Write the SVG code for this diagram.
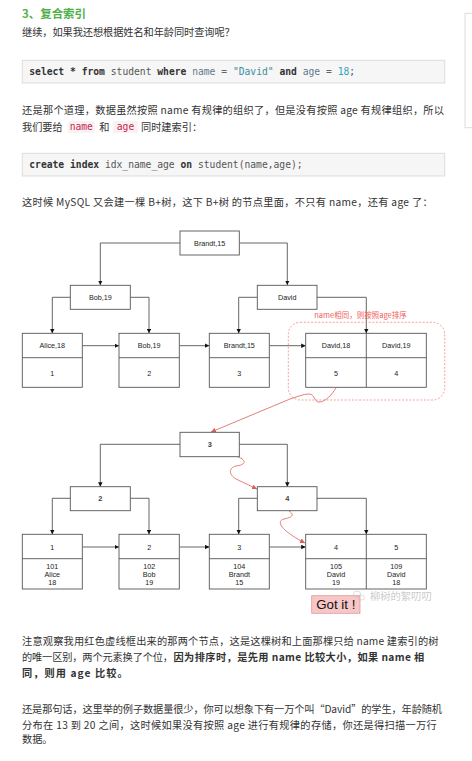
<svg xmlns="http://www.w3.org/2000/svg" width="472" height="761" viewBox="0 0 472 761">
<defs>
<style>
.p{font-family:"Noto Sans CJK SC","Noto Sans",sans-serif;font-size:10.2px;fill:#333}
.b{font-weight:bold}
.h{font-family:"Noto Sans CJK SC","Noto Sans",sans-serif;font-size:11.5px;font-weight:bold;fill:#4fb04a}
.code{font-family:"DejaVu Sans Mono","Liberation Mono",monospace;font-size:9.67px;fill:#555}
.kw{font-weight:bold;fill:#333}
.id{fill:#5f7a8c}
.str{fill:#3b8ea0}
.num{fill:#2aa8c0}
.op{fill:#666}
.box{fill:#f6f6f6;stroke:#ddd;stroke-width:1}
.ic{fill:#f9f2f4}
.ict{font-family:"DejaVu Sans Mono","Liberation Mono",monospace;font-size:9.67px;fill:#c7254e}
.n{fill:#fff;stroke:#555;stroke-width:0.9}
.t{font-family:"Liberation Sans",Arial,sans-serif;font-size:7.2px;fill:#222;text-anchor:middle}
.tb{font-family:"Liberation Sans",Arial,sans-serif;font-size:7.4px;font-weight:bold;fill:#444;text-anchor:middle}
.c{fill:none;stroke:#555;stroke-width:0.9}
.r{fill:none;stroke:#d9605a;stroke-width:0.8}
</style>
<marker id="a" viewBox="0 0 8 8" refX="8" refY="4" markerWidth="4.5" markerHeight="4.5" markerUnits="userSpaceOnUse" orient="auto"><path d="M0,0 L8,4 L0,8 z" fill="#111"/></marker>
<marker id="ar" viewBox="0 0 8 8" refX="8" refY="4" markerWidth="5" markerHeight="5" markerUnits="userSpaceOnUse" orient="auto"><path d="M0,0 L8,4 L0,8 z" fill="#d9605a"/></marker>
</defs>
<rect width="472" height="761" fill="#fff"/>
<rect x="465" y="13.3" width="12" height="114.4" fill="#fff" stroke="#ddd"/>

<text class="h" x="22" y="17.5" textLength="64" lengthAdjust="spacingAndGlyphs">3、复合索引</text>
<text class="p" x="22" y="36" textLength="212.7">继续，如果我还想根据姓名和年龄同时查询呢？</text>

<rect class="box" x="22.3" y="60.3" width="422.4" height="22.7"/>
<text class="code" x="29.3" y="75"><tspan class="kw">select</tspan> <tspan class="kw">*</tspan> <tspan class="kw">from</tspan> student <tspan class="kw">where</tspan> <tspan class="id">name</tspan> <tspan class="op">=</tspan> <tspan class="str">"David"</tspan> <tspan class="kw">and</tspan> <tspan class="id">age</tspan> <tspan class="op">=</tspan> <tspan class="num">18</tspan>;</text>

<text class="p" x="22" y="113.7" textLength="422">还是那个道理，数据虽然按照 name 有规律的组织了，但是没有按照 age 有规律组织，所以</text>
<text class="p" x="22" y="130.5">我们要给</text>
<rect class="ic" x="67.7" y="121" width="27.3" height="12" rx="2"/>
<text class="ict" x="81.3" y="130.3" text-anchor="middle">name</text>
<text class="p" x="99.3" y="130.5">和</text>
<rect class="ic" x="112.7" y="121" width="25.6" height="12" rx="2"/>
<text class="ict" x="125.5" y="130.3" text-anchor="middle">age</text>
<text class="p" x="141" y="130.5">同时建索引：</text>

<rect class="box" x="22.3" y="153.3" width="422.4" height="22.7"/>
<text class="code" x="29.3" y="168"><tspan class="kw">create</tspan> <tspan class="kw">index</tspan> idx_name_age <tspan class="kw">on</tspan> student(name,age);</text>

<text class="p" x="22" y="206.4" textLength="410.6">这时候 MySQL 又会建一棵 B+树，这下 B+树 的节点里面，不只有 name，还有 age 了：</text>

<g id="connectors">
<path class="c" d="M180,243 H100.3 V285" marker-end="url(#a)"/>
<path class="c" d="M239.3,243 H287.3 V285" marker-end="url(#a)"/>
<path class="c" d="M70.3,297.3 H52.3 V333.3" marker-end="url(#a)"/>
<path class="c" d="M130.3,297.3 H149 V333.3" marker-end="url(#a)"/>
<path class="c" d="M257.3,297.3 H238.7 V333.3" marker-end="url(#a)"/>
<path class="c" d="M317,297.3 H366.3 V333.3" marker-end="url(#a)"/>
<path class="c" d="M82.3,345.7 H119" marker-end="url(#a)"/>
<path class="c" d="M179.3,345.7 H209.3" marker-end="url(#a)"/>
<path class="c" d="M269.3,345.7 H305.7" marker-end="url(#a)"/>
<path class="c" d="M180,444.3 H100.3 V486.7" marker-end="url(#a)"/>
<path class="c" d="M239.3,444.3 H287.3 V486.7" marker-end="url(#a)"/>
<path class="c" d="M70.3,498.3 H52.3 V534.3" marker-end="url(#a)"/>
<path class="c" d="M130.3,498.3 H149 V534.3" marker-end="url(#a)"/>
<path class="c" d="M257.3,498.3 H238.7 V534.3" marker-end="url(#a)"/>
<path class="c" d="M317,498.3 H366.3 V534.3" marker-end="url(#a)"/>
<path class="c" d="M82.3,547 H119" marker-end="url(#a)"/>
<path class="c" d="M179.3,547 H209.3" marker-end="url(#a)"/>
<path class="c" d="M269.3,547 H305.7" marker-end="url(#a)"/>
<path class="r" d="M336,388 C332,394 326,402 319,402 C314,402 315,394 309,394 C303,394 297,397 290,399 L211,432" marker-end="url(#ar)"/>
<path class="r" d="M238,457 C247,460 246,465 236,466 C228,468 229,475 236,479 L257,489" marker-end="url(#ar)"/>
<path class="r" d="M289,511 C294,514 294,517 284,519 C276,521 280,530 305,543" marker-end="url(#ar)"/>
</g>

<g id="group-same-name">
<rect x="288.3" y="322.3" width="156.4" height="77.7" rx="12" fill="none" stroke="#f28a8a" stroke-width="0.8" stroke-dasharray="2,1.6"/>
<text x="360.5" y="317.5" font-family="Noto Sans CJK SC,Noto Sans,sans-serif" font-size="7.5" fill="#f05a5a" text-anchor="middle">name相同，则按照age排序</text>
</g>

<g id="u-root"><rect class="n" x="180" y="231" width="59.3" height="24"/><text class="t" x="209.7" y="245.5">Brandt,15</text></g>
<g id="u-bob"><rect class="n" x="70.3" y="285.3" width="60" height="24"/><text class="t" x="100.3" y="299.8">Bob,19</text></g>
<g id="u-david"><rect class="n" x="257.3" y="285.3" width="59.7" height="24"/><text class="t" x="287.2" y="299.8">David</text></g>

<g id="u-leaf-alice"><rect class="n" x="22.3" y="333.3" width="60" height="54"/><line class="c" x1="22.3" y1="357.7" x2="82.3" y2="357.7"/><text class="t" x="52.3" y="348">Alice,18</text><text class="t" x="52.3" y="375.5">1</text></g>
<g id="u-leaf-bob"><rect class="n" x="119" y="333.3" width="60.3" height="54"/><line class="c" x1="119" y1="357.7" x2="179.3" y2="357.7"/><text class="t" x="149.2" y="348">Bob,19</text><text class="t" x="149.2" y="375.5">2</text></g>
<g id="u-leaf-brandt"><rect class="n" x="209.3" y="333.3" width="60" height="54"/><line class="c" x1="209.3" y1="357.7" x2="269.3" y2="357.7"/><text class="t" x="239.3" y="348">Brandt,15</text><text class="t" x="239.3" y="375.5">3</text></g>
<g id="u-leaf-david"><rect class="n" x="305.7" y="333.3" width="120.6" height="54"/><line class="c" x1="305.7" y1="357.7" x2="426.3" y2="357.7"/><line class="c" x1="366.3" y1="333.3" x2="366.3" y2="387.3"/><text class="t" x="336" y="348">David,18</text><text class="t" x="396.3" y="348">David,19</text><text class="t" x="336" y="375.5">5</text><text class="t" x="396.3" y="375.5">4</text></g>

<g id="l-root"><rect class="n" x="180" y="432.3" width="59.3" height="24.4"/><text class="tb" x="209.7" y="447">3</text></g>
<g id="l-2"><rect class="n" x="70.3" y="486.7" width="60" height="24"/><text class="tb" x="100.3" y="501.3">2</text></g>
<g id="l-4"><rect class="n" x="257.3" y="486.7" width="59.7" height="24"/><text class="tb" x="287.2" y="501.3">4</text></g>

<g id="l-leaf-1"><rect class="n" x="22.3" y="534.3" width="60" height="54.7"/><line class="c" x1="22.3" y1="558.7" x2="82.3" y2="558.7"/><text class="t" x="52.3" y="549.5">1</text><text class="t" x="52.3" y="568.6">101</text><text class="t" x="52.3" y="576.8">Alice</text><text class="t" x="52.3" y="585">18</text></g>
<g id="l-leaf-2"><rect class="n" x="119" y="534.3" width="60.3" height="54.7"/><line class="c" x1="119" y1="558.7" x2="179.3" y2="558.7"/><text class="t" x="149.2" y="549.5">2</text><text class="t" x="149.2" y="568.6">102</text><text class="t" x="149.2" y="576.8">Bob</text><text class="t" x="149.2" y="585">19</text></g>
<g id="l-leaf-3"><rect class="n" x="209.3" y="534.3" width="60" height="54.7"/><line class="c" x1="209.3" y1="558.7" x2="269.3" y2="558.7"/><text class="t" x="239.3" y="549.5">3</text><text class="t" x="239.3" y="568.6">104</text><text class="t" x="239.3" y="576.8">Brandt</text><text class="t" x="239.3" y="585">15</text></g>
<g id="l-leaf-45"><rect class="n" x="305.7" y="534.3" width="120.6" height="54.7"/><line class="c" x1="305.7" y1="558.7" x2="426.3" y2="558.7"/><line class="c" x1="366.3" y1="534.3" x2="366.3" y2="589"/><text class="t" x="336" y="549.5">4</text><text class="t" x="396.3" y="549.5">5</text><text class="t" x="336" y="568.6">105</text><text class="t" x="336" y="576.8">David</text><text class="t" x="336" y="585">19</text><text class="t" x="396.3" y="568.6">109</text><text class="t" x="396.3" y="576.8">David</text><text class="t" x="396.3" y="585">18</text></g>

<g id="got-it"><rect x="311.7" y="595.7" width="48.3" height="17.6" fill="#f7c6c6" stroke="#e39a9a" stroke-width="0.8"/><text x="335.8" y="609.3" font-family="Liberation Sans,Arial,sans-serif" font-size="13.3" fill="#111" text-anchor="middle">Got it !</text></g>
<g id="watermark" opacity="0.6"><ellipse cx="357" cy="594" rx="3.6" ry="3" fill="none" stroke="#bbb" stroke-width="0.8"/><ellipse cx="361.5" cy="597.5" rx="3" ry="2.5" fill="none" stroke="#bbb" stroke-width="0.8"/><text x="370" y="599.5" font-family="Noto Sans CJK SC,sans-serif" font-size="10.3" fill="#aaa" textLength="61.7">柳树的絮叨叨</text></g>

<text class="p" x="22" y="644.5" textLength="416.5">注意观察我用红色虚线框出来的那两个节点，这是这棵树和上面那棵只给 name 建索引的树</text>
<text class="p" x="22" y="660.5" textLength="151">的唯一区别，两个元素换了个位，</text>
<text class="p b" x="173.5" y="660.5" textLength="250.8">因为排序时，是先用 name 比较大小，如果 name 相</text>
<text class="p b" x="22" y="676.5" textLength="105.7">同，则用 age 比较。</text>
<text class="p" x="22" y="713" textLength="420">还是那句话，这里举的例子数据量很少，你可以想象下有一万个叫“David”的学生，年龄随机</text>
<text class="p" x="22" y="729" textLength="414.7">分布在 13 到 20 之间，这时候如果没有按照 age 进行有规律的存储，你还是得扫描一万行</text>
<text class="p" x="22" y="742.8">数据。</text>
</svg>
